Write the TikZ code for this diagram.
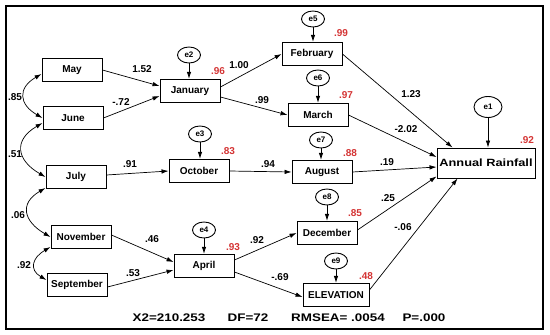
\documentclass[tikz,border=0pt]{standalone}
\usepackage{fontspec}
\setmainfont{Liberation Sans}
\newfontfamily\widefont[FakeStretch=1.22]{Liberation Sans}
\usetikzlibrary{arrows.meta,shapes.geometric}
\definecolor{rsqred}{RGB}{212,52,52}

\begin{document}
\begin{tikzpicture}[
    x=1pt,
    y=1pt,
    every node/.style={font=\bfseries\fontsize{10}{12}\selectfont},
    var/.style={draw, line width=0.9pt, minimum width=60pt, minimum height=23.5pt, inner sep=1pt},
    err/.style={draw, ellipse, line width=0.9pt, minimum width=23pt, minimum height=16pt, inner sep=0pt, font=\bfseries\fontsize{8}{9}\selectfont},
    arr/.style={-{Latex[length=7pt,width=4.5pt]}, line width=0.7pt},
    cov/.style={{Latex[length=7pt,width=4.5pt]}-{Latex[length=7pt,width=4.5pt]}, line width=0.7pt, looseness=1.6},
    rsqlabel/.style={text=rsqred},
    stat/.style={font=\widefont\bfseries\fontsize{11}{13}\selectfont}
]

    \useasboundingbox (0,0) rectangle (550,-335);
    \draw[line width=2.2pt] (6,-6) rectangle (543,-329);

    % observed variables
    \node[var] (may) at (72,-70) {May};
    \node[var] (june) at (73,-118) {June};
    \node[var] (july) at (76,-177) {July};
    \node[var] (november) at (81,-237) {November};
    \node[var] (september) at (77,-285) {September};
    \node[var] (january) at (190,-91) {January};
    \node[var] (october) at (199,-171) {October};
    \node[var] (april) at (204,-266) {April};
    \node[var] (february) at (312,-54) {February};
    \node[var] (march) at (318,-115) {March};
    \node[var] (august) at (322,-172) {August};
    \node[var] (december) at (327,-233) {December};
    \node[var, minimum width=66pt] (elevation) at (336,-295) {ELEVATION};
    \node[var, minimum width=98pt, minimum height=30pt, font=\widefont\bfseries\fontsize{10.5}{12}\selectfont] (rainfall) at (486,-163) {Annual Rainfall};

    % error terms
    \node[err] (e2) at (189,-55) {e2};
    \node[err] (e3) at (200,-134) {e3};
    \node[err] (e4) at (204,-230) {e4};
    \node[err] (e5) at (313,-19) {e5};
    \node[err] (e6) at (318,-78) {e6};
    \node[err] (e7) at (321,-140) {e7};
    \node[err] (e8) at (327,-197) {e8};
    \node[err] (e9) at (336,-261) {e9};
    \node[err, minimum width=28pt, minimum height=21pt] (e1) at (488,-107) {e1};

    \draw[arr] (e2) -- (e2 |- january.north);
    \draw[arr] (e3) -- (e3 |- october.north);
    \draw[arr] (e4) -- (e4 |- april.north);
    \draw[arr] (e5) -- (e5 |- february.north);
    \draw[arr] (e6) -- (e6 |- march.north);
    \draw[arr] (e7) -- (e7 |- august.north);
    \draw[arr] (e8) -- (e8 |- december.north);
    \draw[arr] (e9) -- (e9 |- elevation.north);
    \draw[arr] (e1) -- (e1 |- rainfall.north);

    % paths
    \draw[arr] (may.east) -- ([yshift=5pt]january.west);
    \draw[arr] (june.east) -- ([yshift=-5pt]january.west);
    \draw[arr] ([yshift=4pt]january.east) -- (february.west);
    \draw[arr] ([yshift=-6pt]january.east) -- (march.west);
    \draw[arr] ([yshift=2pt]july.east) -- (october.west);
    \draw[arr] (october.east) -- (august.west);
    \draw[arr] ([yshift=2pt]november.east) -- ([yshift=4pt]april.west);
    \draw[arr] ([yshift=-2pt]september.east) -- ([yshift=-4pt]april.west);
    \draw[arr] ([yshift=6pt]april.east) -- (december.west);
    \draw[arr] ([yshift=-6pt]april.east) -- ([yshift=-2pt]elevation.west);
    \draw[arr] (february.east) -- ([xshift=16pt]rainfall.north west);
    \draw[arr] (march.east) -- ([yshift=6pt]rainfall.west);
    \draw[arr] (august.east) -- ([yshift=-4pt]rainfall.west);
    \draw[arr] ([yshift=3pt]december.east) -- ([yshift=2pt]rainfall.south west);
    \draw[arr] ([yshift=5pt]elevation.east) -- ([xshift=21pt]rainfall.south west);

    % covariances
    \draw[cov] ([yshift=-4pt]may.west) to[out=210,in=150] (june.west);
    \draw[cov] ([yshift=-5pt]june.west) to[out=210,in=150] (july.west);
    \draw[cov] ([yshift=-11pt]july.west) to[out=210,in=150] (november.west);
    \draw[cov] ([yshift=-10pt]november.west) to[out=210,in=150] ([yshift=5pt]september.west);

    \node (c1) at (15,-97) {.85};
    \node (c2) at (15,-154) {.51};
    \node (c3) at (18,-215) {.06};
    \node (c4) at (24,-265) {.92};

    % coefficients
    \node (w1) at (142,-69) {1.52};
    \node (w2) at (121,-102) {-.72};
    \node (w3) at (239,-65) {1.00};
    \node (w4) at (262,-100) {.99};
    \node (w5) at (130,-164) {.91};
    \node (w6) at (268,-164) {.94};
    \node (w7) at (411,-94) {1.23};
    \node (w8) at (406,-129) {-2.02};
    \node (w9) at (387,-162) {.19};
    \node (w10) at (388,-198) {.25};
    \node (w11) at (403,-227) {-.06};
    \node (w12) at (152,-239) {.46};
    \node (w13) at (133,-273) {.53};
    \node (w14) at (257,-240) {.92};
    \node (w15) at (280,-277) {-.69};

    % squared multiple correlations
    \node[rsqlabel] (r2) at (218,-71) {.96};
    \node[rsqlabel] (r3) at (228,-151) {.83};
    \node[rsqlabel] (r5) at (341,-33) {.99};
    \node[rsqlabel] (r6) at (346,-95) {.97};
    \node[rsqlabel] (r7) at (350,-153) {.88};
    \node[rsqlabel] (r1) at (527,-140) {.92};
    \node[rsqlabel] (r8) at (355,-213) {.85};
    \node[rsqlabel] (r9) at (366,-276) {.48};
    \node[rsqlabel] (r4) at (233,-247) {.93};

    % fit indices
    \node[stat] (chisq) at (169,-318) {X2=210.253};
    \node[stat] (df) at (248,-318) {DF=72};
    \node[stat] (rmsea) at (338,-318) {RMSEA= .0054};
    \node[stat] (pval) at (424,-318) {P=.000};

\end{tikzpicture}
\end{document}
